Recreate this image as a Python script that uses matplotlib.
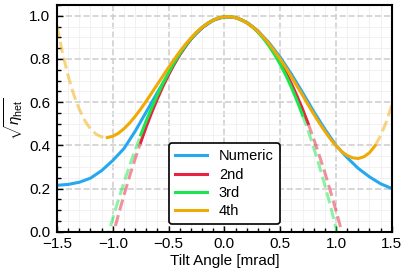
import numpy as np
import matplotlib
matplotlib.use("Agg")
import matplotlib.pyplot as plt
from matplotlib.ticker import MultipleLocator

plt.rcParams['font.family'] = ['Liberation Sans', 'DejaVu Sans']
plt.rcParams['mathtext.fontset'] = 'custom'
plt.rcParams['mathtext.rm'] = 'Liberation Sans'
plt.rcParams['mathtext.it'] = 'Liberation Sans:italic'

# numeric result, read every 0.1 mrad
tilt_num = np.linspace(-1.5, 1.5, 31)
eta_num = [0.215, 0.219, 0.229, 0.248, 0.283, 0.330, 0.385, 0.465, 0.555, 0.645,
           0.732, 0.822, 0.892, 0.944, 0.979, 0.995, 0.992, 0.970, 0.930, 0.875,
           0.808, 0.730, 0.645, 0.557, 0.475, 0.400, 0.343, 0.293, 0.254, 0.222,
           0.200]

# taylor expansions, read every 0.05 mrad
tilt_2nd = np.linspace(-1.05, 1.10, 44)
eta_2nd = [-0.119, -0.018, 0.078, 0.169, 0.256, 0.337, 0.414, 0.487, 0.554, 0.616,
           0.674, 0.727, 0.776, 0.819, 0.858, 0.892, 0.921, 0.945, 0.965, 0.980,
           0.990, 0.995, 0.996, 0.991, 0.982, 0.968, 0.950, 0.927, 0.898, 0.865,
           0.828, 0.785, 0.738, 0.686, 0.629, 0.568, 0.501, 0.430, 0.354, 0.274,
           0.188, 0.098, 0.003, -0.097]

tilt_3rd = np.linspace(-1.10, 1.05, 44)
eta_3rd = [-0.118, -0.026, 0.062, 0.147, 0.228, 0.305, 0.378, 0.448, 0.514, 0.576,
           0.634, 0.688, 0.737, 0.783, 0.824, 0.861, 0.894, 0.922, 0.946, 0.965,
           0.980, 0.990, 0.995, 0.996, 0.991, 0.982, 0.968, 0.949, 0.924, 0.895,
           0.860, 0.820, 0.775, 0.725, 0.669, 0.607, 0.540, 0.468, 0.389, 0.305,
           0.215, 0.120, 0.018, -0.090]

tilt_4th = np.linspace(-1.5, 1.5, 61)
eta_4th = [0.953, 0.827, 0.721, 0.635, 0.567, 0.514, 0.476, 0.452, 0.439, 0.436,
           0.442, 0.456, 0.477, 0.503, 0.534, 0.568, 0.605, 0.644, 0.683, 0.722,
           0.761, 0.798, 0.834, 0.867, 0.897, 0.924, 0.947, 0.965, 0.980, 0.990,
           0.995, 0.996, 0.991, 0.982, 0.968, 0.950, 0.927, 0.901, 0.870, 0.836,
           0.799, 0.760, 0.718, 0.675, 0.632, 0.588, 0.545, 0.504, 0.465, 0.429,
           0.398, 0.372, 0.353, 0.342, 0.339, 0.347, 0.366, 0.398, 0.445, 0.507,
           0.587]

# range where each expansion is drawn solid
valid_2nd = (-0.75, 0.75)
valid_3rd = (-0.75, 0.70)
valid_4th = (-1.05, 1.35)

labels = ['Numeric', '2nd', '3rd', '4th']
colors = ['#25a8f0', '#e8223f', '#18e84c', '#f0aa05']


def draw_expansion(ax, x, y, valid, color, label):
    x = np.round(x, 2)
    y = np.asarray(y)
    lo, hi = valid
    inside = (x >= lo) & (x <= hi)
    ax.plot(x[x <= lo], y[x <= lo], '--', color=color, lw=2.2, alpha=0.5)
    ax.plot(x[x >= hi], y[x >= hi], '--', color=color, lw=2.2, alpha=0.5)
    ax.plot(x[inside], y[inside], '-', color=color, lw=2.2, label=label)


fig = plt.figure(figsize=(4.08, 2.76), dpi=100)
ax = fig.add_axes([0.1397, 0.1605, 0.8206, 0.8214])

ax.plot(tilt_num, eta_num, color=colors[0], lw=2.2, label=labels[0])
draw_expansion(ax, tilt_2nd, eta_2nd, valid_2nd, colors[1], labels[1])
draw_expansion(ax, tilt_3rd, eta_3rd, valid_3rd, colors[2], labels[2])
draw_expansion(ax, tilt_4th, eta_4th, valid_4th, colors[3], labels[3])

ax.set_xlim(-1.5, 1.5)
ax.set_ylim(0, 1.05)
ax.xaxis.set_major_locator(MultipleLocator(0.5))
ax.xaxis.set_minor_locator(MultipleLocator(0.1))
ax.yaxis.set_major_locator(MultipleLocator(0.2))
ax.yaxis.set_minor_locator(MultipleLocator(0.05))

ax.set_axisbelow(True)
ax.grid(which='major', ls='--', color='#d0d0d0', lw=1.2)
ax.grid(which='minor', ls='-', color='#efefef', lw=0.6)

ax.tick_params(which='both', direction='in', labelsize=11, width=1)
ax.tick_params(which='major', length=4.5)
ax.tick_params(which='minor', length=3)
ax.tick_params(axis='x', pad=4)
ax.tick_params(axis='y', pad=5)
for s in ax.spines.values():
    s.set_linewidth(1.5)

ax.set_xlabel('Tilt Angle [mrad]', fontsize=11, labelpad=2)
ax.set_ylabel(r'$\sqrt{\eta_{\rm het}}$', fontsize=11, labelpad=3)

leg = ax.legend(loc='lower center', bbox_to_anchor=(0.5, 0.033), borderaxespad=0,
                fontsize=10.5, handlelength=2.2, labelspacing=0.3,
                framealpha=1, edgecolor='black')
leg.get_frame().set_linewidth(1.2)

fig.savefig('out.png', dpi=100)
